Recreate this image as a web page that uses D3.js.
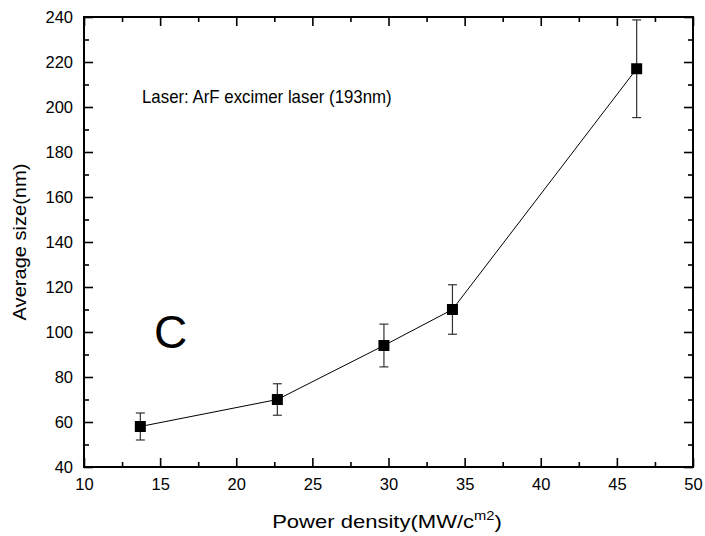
<!DOCTYPE html>
<html>
<head>
<meta charset="utf-8">
<script src="https://cdn.jsdelivr.net/npm/d3@7"></script>
<style>
  body { margin: 0; background: #fff; }
  svg { font-family: "Liberation Sans", Arial, sans-serif; }
</style>
</head>
<body>
<div id="chart"></div>
<script>
// power density (MW/cm2), average size (nm), error (nm)
const powerDensity = [13.7, 22.7, 29.7, 34.2, 46.3];
const avgSize = [58, 70, 94, 110, 217];
const sizeError = [6, 7, 9.5, 11, 21.7];
const xTicks = [10, 15, 20, 25, 30, 35, 40, 45, 50];
const yTicks = [40, 60, 80, 100, 120, 140, 160, 180, 200, 220, 240];

const width = 705, height = 536;
const margin = { top: 17, right: 12, bottom: 69, left: 84 };
const innerWidth = width - margin.left - margin.right;
const innerHeight = height - margin.top - margin.bottom;

const svg = d3.select("#chart").append("svg")
    .attr("width", width).attr("height", height);
const g = svg.append("g").attr("transform", `translate(${margin.left},${margin.top})`);

const x = d3.scaleLinear().domain([10, 50]).range([0, innerWidth]);
const y = d3.scaleLinear().domain([40, 240]).range([innerHeight, 0]);

const xMinor = d3.range(12.5, 50, 5);
const yMinor = d3.range(50, 240, 20);

// axes on all four sides, ticks pointing inward
function styleAxis(sel, labelled) {
    sel.select(".domain").remove();
    sel.selectAll(".tick line").attr("stroke", "#000").attr("stroke-width", 1.6);
    if (!labelled) sel.selectAll("text").remove();
    sel.selectAll("text").attr("fill", "#000").style("font-size", "16.5px");
}
g.append("g").attr("transform", `translate(0,${innerHeight})`)
    .call(d3.axisBottom(x).tickValues(xTicks).tickSize(-9).tickPadding(11).tickFormat(d3.format("d")))
    .call(styleAxis, true);
g.append("g").attr("transform", `translate(0,${innerHeight})`)
    .call(d3.axisBottom(x).tickValues(xMinor).tickSize(-5))
    .call(styleAxis, false);
g.append("g")
    .call(d3.axisTop(x).tickValues(xTicks).tickSize(-9))
    .call(styleAxis, false);
g.append("g")
    .call(d3.axisTop(x).tickValues(xMinor).tickSize(-5))
    .call(styleAxis, false);
g.append("g")
    .call(d3.axisLeft(y).tickValues(yTicks).tickSize(-9).tickPadding(11).tickFormat(d3.format("d")))
    .call(styleAxis, true);
g.append("g")
    .call(d3.axisLeft(y).tickValues(yMinor).tickSize(-5))
    .call(styleAxis, false);
g.append("g").attr("transform", `translate(${innerWidth},0)`)
    .call(d3.axisRight(y).tickValues(yTicks).tickSize(-9))
    .call(styleAxis, false);
g.append("g").attr("transform", `translate(${innerWidth},0)`)
    .call(d3.axisRight(y).tickValues(yMinor).tickSize(-5))
    .call(styleAxis, false);

g.append("rect").attr("width", innerWidth).attr("height", innerHeight)
    .attr("fill", "none").attr("stroke", "#000").attr("stroke-width", 2);

const data = powerDensity.map((p, i) => ({ p, s: avgSize[i], e: sizeError[i] }));

// connecting line
g.append("path").datum(data)
    .attr("fill", "none").attr("stroke", "#000").attr("stroke-width", 1)
    .attr("d", d3.line().x(d => x(d.p)).y(d => y(d.s)));

// error bars
const err = g.selectAll(".err").data(data).enter().append("g").attr("class", "err")
    .attr("stroke", "#333").attr("stroke-width", 1.2);
err.append("line")
    .attr("x1", d => x(d.p)).attr("x2", d => x(d.p))
    .attr("y1", d => y(d.s + d.e)).attr("y2", d => y(d.s - d.e));
err.append("line")
    .attr("x1", d => x(d.p) - 4.5).attr("x2", d => x(d.p) + 4.5)
    .attr("y1", d => y(d.s + d.e)).attr("y2", d => y(d.s + d.e));
err.append("line")
    .attr("x1", d => x(d.p) - 4.5).attr("x2", d => x(d.p) + 4.5)
    .attr("y1", d => y(d.s - d.e)).attr("y2", d => y(d.s - d.e));

// square markers
g.selectAll(".pt").data(data).enter().append("rect").attr("class", "pt")
    .attr("x", d => x(d.p) - 5.5).attr("y", d => y(d.s) - 5.5)
    .attr("width", 11).attr("height", 11).attr("fill", "#000");

// stretch a text horizontally so it spans the wanted width
function fitWidth(sel, target) {
    const w = sel.node().getBBox().width;
    const k = target / w;
    const t = sel.attr("transform") || "";
    sel.attr("transform", `${t} scale(${k},1)`);
}

// annotations
const note = svg.append("text").style("font-size", "17.5px").text("Laser: ArF excimer laser (193nm)");
note.attr("transform", "translate(142,103)");
fitWidth(note, 250);
svg.append("text").attr("x", 154).attr("y", 348)
    .style("font-size", "46px").text("C");

// axis titles
const yt = svg.append("text").attr("text-anchor", "middle")
    .attr("transform", `translate(26,${margin.top + innerHeight / 2}) rotate(-90)`)
    .style("font-size", "18px").text("Average size(nm)");
fitWidth(yt, 157);
const xt = svg.append("text").attr("text-anchor", "middle")
    .attr("transform", `translate(${387},528)`)
    .style("font-size", "18px");
xt.append("tspan").text("Power density(MW/c");
xt.append("tspan").attr("dy", -8).style("font-size", "12px").text("m2");
xt.append("tspan").attr("dy", 8).text(")");
fitWidth(xt, 230);
</script>
</body>
</html>
